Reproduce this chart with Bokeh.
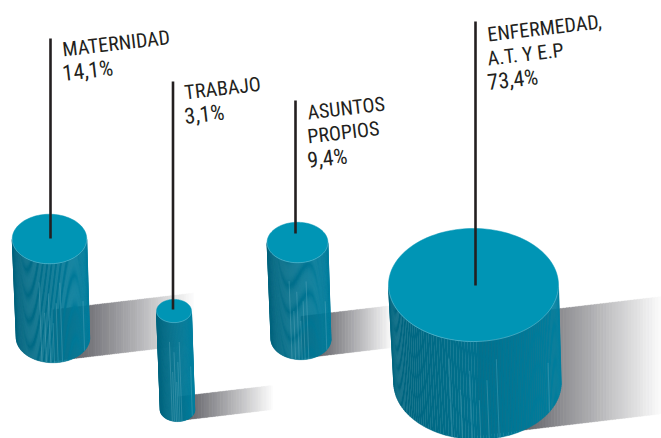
import numpy as np
from bokeh.plotting import figure
from bokeh.models import Range1d
from bokeh.core.properties import value
from bokeh.embed import file_html
from bokeh.resources import INLINE

categories = ["MATERNIDAD", "TRABAJO", "ASUNTOS PROPIOS", "ENFERMEDAD, A.T. Y E.P"]
shares = [14.1, 3.1, 9.4, 73.4]
share_labels = ["14,1%", "3,1%", "9,4%", "73,4%"]
label_lines = [["MATERNIDAD"], ["TRABAJO"], ["ASUNTOS", "PROPIOS"], ["ENFERMEDAD,", "A.T. Y E.P"]]

# layout (image pixels)
top_cx = [49, 173.5, 297, 473]
top_cy = [238.5, 310.5, 242, 284.5]
base_dx = [3.5, 3.5, 3.5, 4]
body_h = [99, 99, 97, 98]
stem_x = [50, 172.5, 295, 475]
stem_top = [38, 81, 100, 21]
stem_end = [238, 309, 233, 285]
label_xy = [(62, 49), (184, 92), (307, 112), (487, 34)]
shadow_end = [193, 272, 392, 661]
K = 9.92
RATIO = 0.665
SLOPE = -0.118
ANGLE = 0.115
streaks = [-0.3, -0.18, -0.06, 0.04, 0.14, 0.26, 0.86]


def mix(a, b, t):
    t = max(0, min(1, t))
    c = [int(round(a[i] + (b[i] - a[i]) * t)) for i in range(3)]
    return "#%02x%02x%02x" % tuple(c)


p = figure(width=661, height=438, output_backend="svg", toolbar_location=None,
           x_range=Range1d(0, 661), y_range=Range1d(438, 0), min_border=0)
p.axis.visible = False
p.grid.visible = False
p.outline_line_color = None
p.background_fill_color = "white"
p.border_fill_color = "white"

# shadows
sx, sy, sc = [], [], []
for i, v in enumerate(shares):
    r = K * np.sqrt(v)
    ry = r * RATIO
    bx = top_cx[i] + base_dx[i]
    by = top_cy[i] + body_h[i]
    x0 = bx + 0.5 * r
    x1 = shadow_end[i]
    n = 60
    edges = np.linspace(bx, x1, n + 1)
    h = 1.38 * r
    base = by + 0.93 * ry
    for j in range(n):
        a, b = edges[j], min(edges[j + 1] + 0.5, x1)
        ya, yb = base + (a - bx) * SLOPE, base + (b - bx) * SLOPE
        sx.append([a, b, b, a])
        sy.append([ya - h, yb - h, yb, ya])
        t = ((a + b) / 2 - x0) / (x1 - x0)
        sc.append(mix((95, 95, 101), (252, 252, 252), t))
p.patches(sx, sy, fill_color=sc, line_color=sc, line_width=0.3)

# cylinders
for i, v in enumerate(shares):
    r = K * np.sqrt(v)
    ry = r * RATIO
    cx, cy = top_cx[i], top_cy[i]
    bx, by = cx + base_dx[i], cy + body_h[i]
    rb = r * 0.985
    n = 90
    th = np.linspace(np.pi, 0, n + 1)
    xs, ys, cs = [], [], []
    for j in range(n):
        t0, t1 = th[j], th[j + 1]
        xs.append([cx + r * np.cos(t0), cx + r * np.cos(t1), bx + rb * np.cos(t1), bx + rb * np.cos(t0)])
        ys.append([cy + ry * np.sin(t0), cy + ry * np.sin(t1), by + ry * np.sin(t1), by + ry * np.sin(t0)])
        u = (np.cos((t0 + t1) / 2) + 1) / 2
        cs.append(mix((0, 100, 126), (0, 126, 158), u))
    p.patches(xs, ys, fill_color=cs, line_color=cs, line_width=0.4)
    for k, s in enumerate(streaks):
        start = 0.2 + 0.5 * ((k * 3) % 5) / 5
        sxa = cx + r * s
        sya = cy + ry * np.sqrt(1 - s * s)
        sxb = bx + rb * s
        syb = by + ry * np.sqrt(1 - s * s)
        p.line([sxa + (sxb - sxa) * start, sxb], [sya + (syb - sya) * start, syb],
               line_color="#8fc6d6", line_width=0.6, line_alpha=0.45)
    t = np.linspace(0, 2 * np.pi, 121)
    p.patch(cx + r * np.cos(t), cy + ry * np.sin(t), fill_color="#0095b5", line_color="#0095b5", line_width=0.5)
    t2 = np.linspace(np.pi, 0, 61)
    p.line(cx + r * np.cos(t2), cy + ry * np.sin(t2), line_color="#8ccbdc", line_width=0.6, line_alpha=0.7)

# stems
for i in range(4):
    p.line([stem_x[i], stem_x[i]], [stem_top[i], stem_end[i]], line_color="#231f20", line_width=2.6)

# labels
LEAD = 24
for i in range(4):
    x, y = label_xy[i]
    names = label_lines[i]
    for j, s in enumerate(names + [share_labels[i]]):
        size = "22px" if j == len(names) else "20px"
        p.text([x], [y + j * LEAD], text=[s], text_font=value("Roboto Condensed"), text_font_size=size,
               text_color="#231f20", angle=ANGLE, text_baseline="alphabetic", text_align="left")

open("out.html", "w").write(file_html(p, INLINE))
